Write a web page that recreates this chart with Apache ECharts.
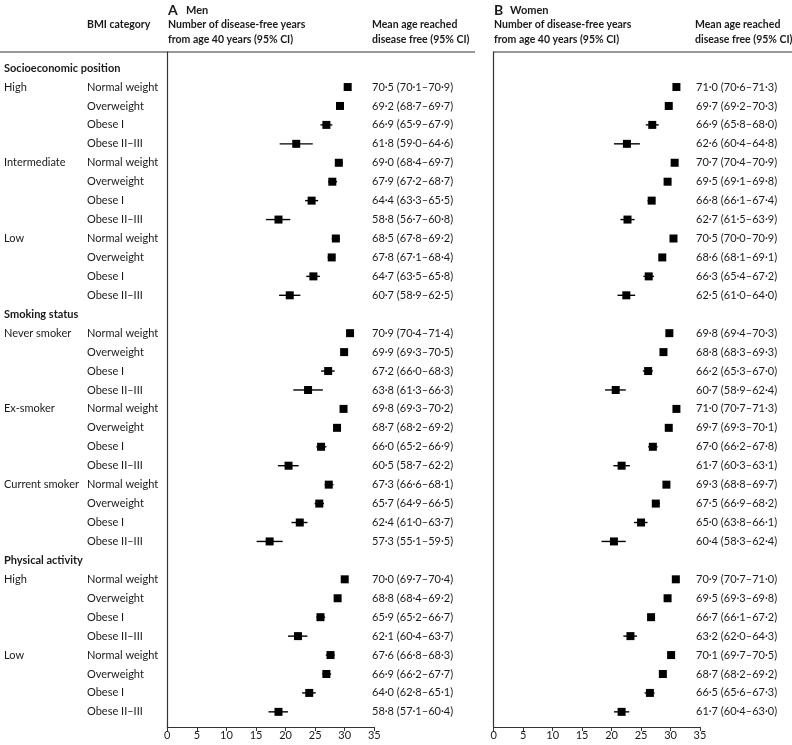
<!DOCTYPE html>
<html>
<head>
<meta charset="utf-8">
<script src="https://cdn.jsdelivr.net/npm/echarts@6/dist/echarts.min.js"></script>
<style>html,body{margin:0;padding:0;background:#fff}#c{width:792px;height:745px}</style>
</head>
<body>
<div id="c"></div>
<script>
// ---- Data (mean age reached disease free, with 95% CI) ----
const sections = ['Socioeconomic position', 'Smoking status', 'Physical activity'];
const groupsBySection = [
  ['High', 'Intermediate', 'Low'],
  ['Never smoker', 'Ex-smoker', 'Current smoker'],
  ['High', 'Low']
];
const bmiCategories = ['Normal weight', 'Overweight', 'Obese I', 'Obese II–III'];
const startAge = 40;

const menAge  = [70.5,69.2,66.9,61.8, 69.0,67.9,64.4,58.8, 68.5,67.8,64.7,60.7, 70.9,69.9,67.2,63.8, 69.8,68.7,66.0,60.5, 67.3,65.7,62.4,57.3, 70.0,68.8,65.9,62.1, 67.6,66.9,64.0,58.8];
const menLow  = [70.1,68.7,65.9,59.0, 68.4,67.2,63.3,56.7, 67.8,67.1,63.5,58.9, 70.4,69.3,66.0,61.3, 69.3,68.2,65.2,58.7, 66.6,64.9,61.0,55.1, 69.7,68.4,65.2,60.4, 66.8,66.2,62.8,57.1];
const menHigh = [70.9,69.7,67.9,64.6, 69.7,68.7,65.5,60.8, 69.2,68.4,65.8,62.5, 71.4,70.5,68.3,66.3, 70.2,69.2,66.9,62.2, 68.1,66.5,63.7,59.5, 70.4,69.2,66.7,63.7, 68.3,67.7,65.1,60.4];

const womenAge  = [71.0,69.7,66.9,62.6, 70.7,69.5,66.8,62.7, 70.5,68.6,66.3,62.5, 69.8,68.8,66.2,60.7, 71.0,69.7,67.0,61.7, 69.3,67.5,65.0,60.4, 70.9,69.5,66.7,63.2, 70.1,68.7,66.5,61.7];
const womenLow  = [70.6,69.2,65.8,60.4, 70.4,69.1,66.1,61.5, 70.0,68.1,65.4,61.0, 69.4,68.3,65.3,58.9, 70.7,69.3,66.2,60.3, 68.8,66.9,63.8,58.3, 70.7,69.3,66.1,62.0, 69.7,68.2,65.6,60.4];
const womenHigh = [71.3,70.3,68.0,64.8, 70.9,69.8,67.4,63.9, 70.9,69.1,67.2,64.0, 70.3,69.3,67.0,62.4, 71.3,70.1,67.8,63.1, 69.7,68.2,66.1,62.4, 71.0,69.8,67.2,64.3, 70.5,69.2,67.3,63.0];

const xTicks = [0, 5, 10, 15, 20, 25, 30, 35];

// ---- Build row list ----
const rows = [];
let k = 0;
sections.forEach((s, si) => {
  rows.push({ header: s });
  groupsBySection[si].forEach(g => {
    bmiCategories.forEach((b, bi) => {
      rows.push({ group: bi === 0 ? g : '', bmi: b, idx: k++ });
    });
  });
});

const FONT = 'Lato, "Open Sans", sans-serif';
const TXT = '#1a1a1a';
const BOLD = 'bold 11px ' + FONT;
const HEAD = 'bold 10.5px ' + FONT;
const BODY = '11px ' + FONT;
const fmt = v => v.toFixed(1).replace('.', '·');

function panelSeries(ageArr, lowArr, highArr, gi, ciTextX, withLeft) {
  const ptData = [], ciData = [], textData = [];
  rows.forEach((r, ri) => {
    textData.push([0, ri]);
    if (r.header === undefined) {
      ptData.push([ageArr[r.idx] - startAge, ri]);
      ciData.push([lowArr[r.idx] - startAge, highArr[r.idx] - startAge, ri]);
    }
  });
  return [
    {
      type: 'custom', xAxisIndex: gi, yAxisIndex: gi, data: ciData,
      renderItem: (params, api) => {
        const a = api.coord([api.value(0), api.value(2)]);
        const b = api.coord([api.value(1), api.value(2)]);
        return { type: 'line', shape: { x1: a[0], y1: a[1], x2: b[0], y2: b[1] },
                 style: { stroke: '#000', lineWidth: 1.4 } };
      },
      z: 2, silent: true
    },
    {
      type: 'scatter', xAxisIndex: gi, yAxisIndex: gi, data: ptData,
      symbol: 'rect', symbolSize: 8, itemStyle: { color: '#000', opacity: 1 }, z: 3, silent: true
    },
    {
      type: 'custom', xAxisIndex: gi, yAxisIndex: gi, data: textData, clip: false,
      renderItem: (params, api) => {
        const ri = api.value(1);
        const y = api.coord([0, ri])[1];
        const r = rows[ri];
        const ch = [];
        if (r.header !== undefined) {
          if (withLeft) ch.push({ type: 'text', style: { text: r.header, x: 4, y: y, font: BOLD, fill: TXT, textVerticalAlign: 'middle' } });
        } else {
          if (withLeft) {
            if (r.group) ch.push({ type: 'text', style: { text: r.group, x: 4, y: y, font: BODY, fill: TXT, textVerticalAlign: 'middle' } });
            ch.push({ type: 'text', style: { text: r.bmi, x: 87, y: y, font: BODY, fill: TXT, textVerticalAlign: 'middle' } });
          }
          const t = fmt(ageArr[r.idx]) + ' (' + fmt(lowArr[r.idx]) + '–' + fmt(highArr[r.idx]) + ')';
          ch.push({ type: 'text', style: { text: t, x: ciTextX, y: y, font: BODY, fill: TXT, textVerticalAlign: 'middle' } });
        }
        return { type: 'group', children: ch };
      },
      z: 4, silent: true
    }
  ];
}

const xAxisCommon = {
  type: 'value', min: xTicks[0], max: xTicks[xTicks.length - 1], interval: xTicks[1] - xTicks[0],
  axisLine: { onZero: false, lineStyle: { color: '#333', width: 1.2 } },
  axisTick: { show: true, length: 4, lineStyle: { color: '#333' } },
  axisLabel: { fontSize: 11, color: TXT, fontFamily: FONT, margin: 3 },
  splitLine: { show: false }
};
const yAxisCommon = {
  type: 'value', inverse: true, min: -0.85, max: 34.8,
  axisLine: { show: true, onZero: false, lineStyle: { color: '#333', width: 1.2 } },
  axisTick: { show: false }, axisLabel: { show: false }, splitLine: { show: false }
};

function hdr(text, x, y, font) {
  return { type: 'text', style: { text: text, x: x, y: y, font: font || HEAD, fill: TXT, textVerticalAlign: 'middle' } };
}

const chart = echarts.init(document.getElementById('c'), null, { renderer: 'canvas' });
chart.setOption({
  animation: false,
  grid: [
    { left: 167.3, top: 52, width: 207, height: 675 },
    { left: 493.7, top: 52, width: 206.3, height: 675 }
  ],
  xAxis: [Object.assign({ gridIndex: 0 }, xAxisCommon), Object.assign({ gridIndex: 1 }, xAxisCommon)],
  yAxis: [Object.assign({ gridIndex: 0 }, yAxisCommon), Object.assign({ gridIndex: 1 }, yAxisCommon)],
  series: [].concat(
    panelSeries(menAge, menLow, menHigh, 0, 372, true),
    panelSeries(womenAge, womenLow, womenHigh, 1, 696, false)
  ),
  graphic: [
    { type: 'line', shape: { x1: 0, y1: 52, x2: 475, y2: 52 }, style: { stroke: '#333', lineWidth: 1.2 } },
    { type: 'line', shape: { x1: 493, y1: 52, x2: 792, y2: 52 }, style: { stroke: '#333', lineWidth: 1.2 } },
    hdr('A', 168, 10, 'bold 14px ' + FONT),
    hdr('Men', 186, 10, BOLD),
    hdr('B', 494, 10, 'bold 14px ' + FONT),
    hdr('Women', 510, 10, BOLD),
    hdr('BMI category', 87, 25),
    hdr('Number of disease-free years', 168, 25),
    hdr('from age 40 years (95% CI)', 168, 40),
    hdr('Mean age reached', 372, 25),
    hdr('disease free (95% CI)', 372, 40),
    hdr('Number of disease-free years', 494, 25),
    hdr('from age 40 years (95% CI)', 494, 40),
    hdr('Mean age reached', 695, 25),
    hdr('disease free (95% CI)', 695, 40)
  ]
});
</script>
</body>
</html>
